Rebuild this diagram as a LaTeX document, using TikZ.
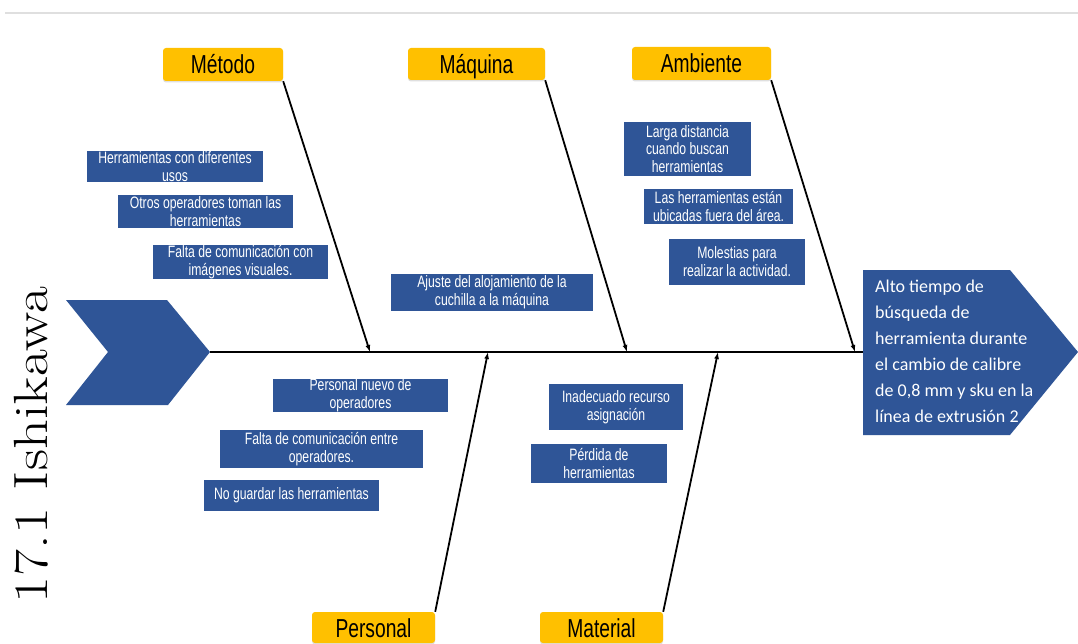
\documentclass[tikz,border=0pt]{standalone}
\usepackage{fontspec}
\newfontfamily\arialn[FakeStretch=0.74]{Liberation Sans}
\newfontfamily\calib{Carlito}
\newfontfamily\lmtitle[FakeStretch=1.22]{Latin Modern Roman}
\usetikzlibrary{arrows.meta,shadows}
\definecolor{bblue}{RGB}{47,85,151}
\definecolor{bor}{RGB}{255,192,0}
\newcommand\mybox[7]{\node[#1, minimum width={#5-#3}, minimum height={#6-#4}] (#2) at ({(#3+#5)/2},{(#4+#6)/2}) {#7};}
\begin{document}
\begin{tikzpicture}[x=1pt,y=-1pt,
 cause/.style={fill=bblue,text=white,inner sep=0pt,align=center,font=\arialn\fontsize{16.5}{17.8}\selectfont},
 cat/.style={fill=bor,rounded corners=3pt,inner sep=0pt,text height=19pt,text depth=0pt,font=\arialn\fontsize{26}{28}\selectfont,drop shadow={opacity=0.25,shadow xshift=0pt,shadow yshift=-1.5pt}},
 bone/.style={line width=1.8pt,-{Latex[length=7pt,width=5pt]}},
]
\useasboundingbox (0,0) rectangle (1078,644);
\fill[white] (0,0) rectangle (1078,644);
% top rule
\draw[gray!25,line width=2pt] (5,13) coordinate (r1) -- (1078,13) coordinate (r2);
% tail chevron
\fill[bblue] (66,300) -- (167,300) -- (210,352) coordinate (tail) -- (168,405) -- (66,405) -- (108,352) -- cycle;
% head
\fill[bblue] (863,270) -- (1010,270) -- (1078,352) -- (1010,435) -- (863,435) -- cycle;
\coordinate (head) at (863,352);
\node[anchor=north west,inner sep=0pt,align=left,text=white,font=\calib\fontsize{18}{26}\selectfont] (htext) at (875,280)
 {Alto tiempo de\\búsqueda de\\herramienta durante\\el cambio de calibre\\de 0,8 mm y sku en la\\línea de extrusión 2};
% spine
\draw[line width=2pt] (tail) -- (head);
% category labels
\mybox{cat}{metodo}{163}{48}{283}{81}{Método}
\mybox{cat}{maquina}{408}{48}{545}{80}{Máquina}
\mybox{cat}{ambiente}{632}{47}{771}{80}{Ambiente}
\mybox{cat}{personal}{312}{612}{435}{643}{Personal}
\mybox{cat}{material}{540}{612}{663}{643}{Material}
% spine points
\coordinate (p1) at (370,352);
\coordinate (p2) at (627,352);
\coordinate (p3) at (855,352);
\coordinate (p4) at (488,352);
\coordinate (p5) at (718,352);
\draw[bone] (metodo.south east) -- (p1);
\draw[bone] (maquina.south east) -- (p2);
\draw[bone] (ambiente.south east) -- (p3);
\draw[bone] (personal.north east) -- (p4);
\draw[bone] (material.north east) -- (p5);
% causes
\mybox{cause}{c1}{87}{151}{263}{182}{Herramientas con diferentes\\usos}
\mybox{cause}{c2}{118}{195}{293}{228}{Otros operadores toman las\\herramientas}
\mybox{cause}{c3}{153}{247}{328}{277}{Falta de comunicación con\\imágenes visuales.}
\mybox{cause}{c4}{391}{274}{593}{311}{Ajuste del alojamiento de la\\cuchilla a la máquina}
\mybox{cause}{c5}{624}{122}{751}{176}{Larga distancia\\cuando buscan\\herramientas}
\mybox{cause}{c6}{644}{189}{793}{224}{Las herramientas están\\ubicadas fuera del área.}
\mybox{cause}{c7}{669}{239}{805}{285}{Molestias para\\realizar la actividad.}
\mybox{cause}{c8}{273}{380}{448}{411}{Personal nuevo de\\operadores}
\mybox{cause}{c9}{220}{430}{423}{468}{Falta de comunicación entre\\operadores.}
\mybox{cause}{c10}{204}{480}{379}{511}{No guardar las herramientas}
\mybox{cause}{c11}{549}{384}{683}{430}{Inadecuado recurso\\asignación}
\mybox{cause}{c12}{531}{444}{667}{483}{Pérdida de\\herramientas}
% side title
\node[rotate=90,anchor=base,inner sep=0pt,font=\lmtitle\fontsize{48}{56}\selectfont] (title) at (47,445) {17.1 Ishikawa};
\end{tikzpicture}
\end{document}
